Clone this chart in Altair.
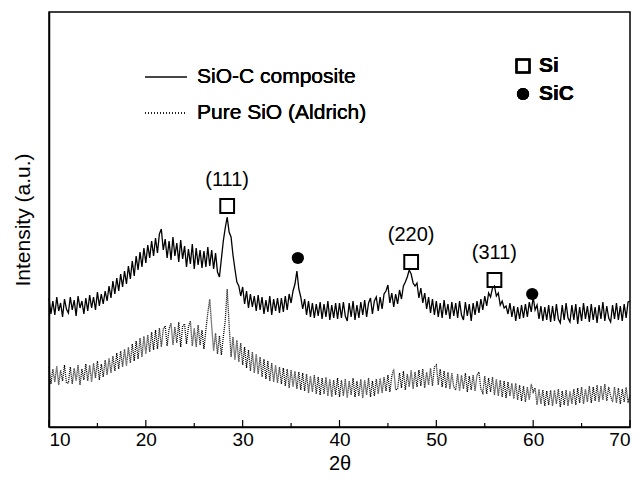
import altair as alt
import pandas as pd

# 2-theta sampling grid (degrees)
x_start, x_step, n_pts = 10.0, 0.2, 301

# SiO-C composite intensity (a.u.)
composite = [
    129,113,126,112,130,116,124,110,128,118,
    114,130,117,127,111,131,119,126,113,129,
    116,132,119,130,117,135,121,133,123,136,
    126,141,129,146,133,149,136,153,140,156,
    143,161,148,166,151,171,157,175,160,179,
    164,182,169,186,171,189,174,193,198,177,
    188,169,186,167,190,171,184,165,187,168,
    181,160,178,163,183,158,179,162,177,159,
    176,160,180,161,177,158,174,155,150,168,
    186,199,210,195,190,172,158,145,141,131,
    140,123,136,119,133,120,131,116,132,117,
    130,113,127,115,131,112,128,116,129,114,
    129,115,131,117,133,124,136,143,156,138,
    130,118,128,112,126,110,124,109,123,111,
    125,108,123,110,126,107,122,109,124,108,
    124,109,125,111,106,124,110,126,107,122,
    109,125,112,127,110,124,129,113,126,130,
    116,130,118,133,136,142,124,134,120,133,
    123,137,128,141,145,150,157,153,144,141,
    144,129,139,124,134,118,130,114,128,112,
    126,110,124,109,127,112,123,108,125,111,
    124,109,126,112,107,125,111,123,106,124,
    112,126,114,128,117,131,121,134,130,139,
    141,131,134,122,126,119,121,113,124,110,
    121,106,120,108,122,109,123,110,125,115,
    130,117,122,108,121,106,120,107,122,105,
    121,106,123,108,104,122,107,124,109,105,
    122,107,123,103,120,106,124,108,121,105,
    123,107,120,104,122,108,125,106,121,109,
    105,122,108,124,107,121,106,123,109,125,
    126,
]

# Pure SiO (Aldrich) intensity (a.u.)
pure_sio = [
    60,43,58,45,61,42,57,46,62,44,
    44,60,43,59,46,62,42,58,47,63,
    46,62,45,64,49,66,47,63,50,67,
    52,69,54,71,56,74,58,76,60,78,
    61,80,64,83,66,86,68,89,70,91,
    73,92,75,95,77,97,78,99,80,98,
    101,81,98,104,82,100,84,105,80,101,
    103,83,100,106,81,99,80,102,82,97,
    78,97,114,128,101,76,94,73,91,72,
    90,106,138,102,70,90,67,87,65,84,
    62,80,59,77,56,75,54,73,53,70,
    50,68,48,66,46,64,45,62,44,60,
    43,59,41,58,39,57,40,56,38,55,
    37,54,36,53,34,51,35,52,33,50,
    32,49,33,50,31,48,30,47,32,49,
    30,47,31,48,29,46,32,49,30,46,
    31,48,29,47,32,49,30,46,31,48,
    33,49,34,50,36,52,35,51,58,37,
    38,54,39,56,37,53,40,57,38,55,
    40,57,41,58,39,55,42,59,41,60,
    62,42,58,40,56,39,55,38,54,40,
    37,53,36,52,38,54,35,51,37,52,
    36,52,55,38,34,51,33,49,35,50,
    32,48,31,47,30,46,29,45,31,44,
    28,44,27,42,26,41,25,40,27,43,
    35,39,22,38,23,37,21,36,22,37,
    21,37,23,38,20,36,22,37,21,36,
    23,38,22,39,24,40,23,38,25,41,
    24,40,26,42,25,41,27,43,26,40,
    31,25,40,24,39,23,38,25,40,24,
    32,
]

# Peak annotations
si_x = [28.4, 47.4, 56.0]
si_y = [221, 165, 147]
si_labels = ["(111)", "(220)", "(311)"]
si_label_y = [247, 192, 174]
sic_x = [35.7, 59.9]
sic_y = [169, 133]

major_ticks = [10, 20, 30, 40, 50, 60, 70]
minor_ticks = [15, 25, 35, 45, 55, 65]

theta = [round(x_start + x_step * i, 2) for i in range(n_pts)]
df_c = pd.DataFrame({"t": theta, "v": composite})
df_p = pd.DataFrame({"t": theta, "v": pure_sio})

FONT = "Liberation Sans"
xs = alt.Scale(domain=[10, 70], nice=False, zero=False)
ys = alt.Scale(domain=[0, 415], nice=False, zero=False)

xax = alt.Axis(values=major_ticks, ticks=False, grid=False, labelFontSize=19,
               labelPadding=3, titleFontSize=20, titlePadding=4, format="d",
               titleFontWeight="normal", domainColor="black", domainWidth=1.5,
               labelColor="black", titleColor="black", labelFont=FONT, titleFont=FONT)
yax = alt.Axis(labels=False, ticks=False, grid=False, titleFontSize=21,
               titlePadding=16, titleFontWeight="normal", domainColor="black",
               domainWidth=1.5, titleColor="black", titleFont=FONT)

line_c = alt.Chart(df_c).mark_line(color="black", strokeWidth=1.3).encode(
    x=alt.X("t:Q", scale=xs, axis=xax, title="2θ"),
    y=alt.Y("v:Q", scale=ys, axis=yax, title="Intensity (a.u.)"),
)
line_p = alt.Chart(df_p).mark_line(color="black", strokeWidth=1.3, strokeDash=[1, 1]).encode(
    x=alt.X("t:Q", scale=xs), y=alt.Y("v:Q", scale=ys)
)

df_major = pd.DataFrame({"t": major_ticks, "y0": 0, "y1": 7})
df_minor = pd.DataFrame({"t": minor_ticks, "y0": 0, "y1": 4})
tick_major = alt.Chart(df_major).mark_rule(color="black", strokeWidth=1.2).encode(
    x=alt.X("t:Q", scale=xs), y=alt.Y("y0:Q", scale=ys), y2="y1:Q")
tick_minor = alt.Chart(df_minor).mark_rule(color="black", strokeWidth=1.2).encode(
    x=alt.X("t:Q", scale=xs), y=alt.Y("y0:Q", scale=ys), y2="y1:Q")

df_si = pd.DataFrame({"t": si_x, "v": si_y, "lab": si_labels, "ly": si_label_y})
df_sic = pd.DataFrame({"t": sic_x, "v": sic_y})
si_marks = alt.Chart(df_si).mark_point(shape="square", size=190, filled=False,
                                        color="black", strokeWidth=2, opacity=1).encode(
    x=alt.X("t:Q", scale=xs), y=alt.Y("v:Q", scale=ys))
si_text = alt.Chart(df_si).mark_text(fontSize=20, font=FONT, color="black").encode(
    x=alt.X("t:Q", scale=xs), y=alt.Y("ly:Q", scale=ys), text="lab:N")
sic_marks = alt.Chart(df_sic).mark_point(shape="circle", size=150, filled=True,
                                          color="black", opacity=1).encode(
    x=alt.X("t:Q", scale=xs), y=alt.Y("v:Q", scale=ys))

# Legends (positions in pixels within the plot area)
leg1 = alt.Chart(df_si).mark_rule(color="#444444", strokeWidth=1.3).encode(
    x=alt.value(96), x2=alt.value(138), y=alt.value(65))
leg2 = alt.Chart(df_si).mark_rule(color="black", strokeWidth=1, strokeDash=[1, 2]).encode(
    x=alt.value(96), x2=alt.value(138), y=alt.value(101))
leg1t = alt.Chart(df_si).mark_text(align="left", baseline="middle", fontSize=21, font=FONT,
                                    color="black").encode(
    x=alt.value(148), y=alt.value(65), text=alt.value("SiO-C composite"))
leg2t = alt.Chart(df_si).mark_text(align="left", baseline="middle", fontSize=21, font=FONT,
                                    color="black").encode(
    x=alt.value(148), y=alt.value(101), text=alt.value("Pure SiO (Aldrich)"))
leg_sq = alt.Chart(df_si).mark_point(shape="square", size=170, filled=False, color="black",
                                      strokeWidth=2, opacity=1).encode(
    x=alt.value(474), y=alt.value(54))
leg_ci = alt.Chart(df_si).mark_point(shape="circle", size=150, filled=True, color="black",
                                      opacity=1).encode(
    x=alt.value(474), y=alt.value(82))
leg_sqt = alt.Chart(df_si).mark_text(align="left", baseline="middle", fontSize=21, font=FONT,
                                      fontWeight="bold", color="black").encode(
    x=alt.value(490), y=alt.value(54), text=alt.value("Si"))
leg_cit = alt.Chart(df_si).mark_text(align="left", baseline="middle", fontSize=21, font=FONT,
                                      fontWeight="bold", color="black").encode(
    x=alt.value(490), y=alt.value(82), text=alt.value("SiC"))

chart = alt.layer(
    line_p, line_c, tick_major, tick_minor, si_marks, si_text, sic_marks,
    leg1, leg2, leg1t, leg2t, leg_sq, leg_ci, leg_sqt, leg_cit,
).properties(
    width=581, height=415,
    autosize=alt.AutoSizeParams(type="none"),
    padding={"left": 41, "top": 4, "right": 3, "bottom": 52},
    background="white",
).configure_view(stroke="black", strokeWidth=1.5)

chart.save("out.html", embed_options={"renderer": "svg", "actions": False})
